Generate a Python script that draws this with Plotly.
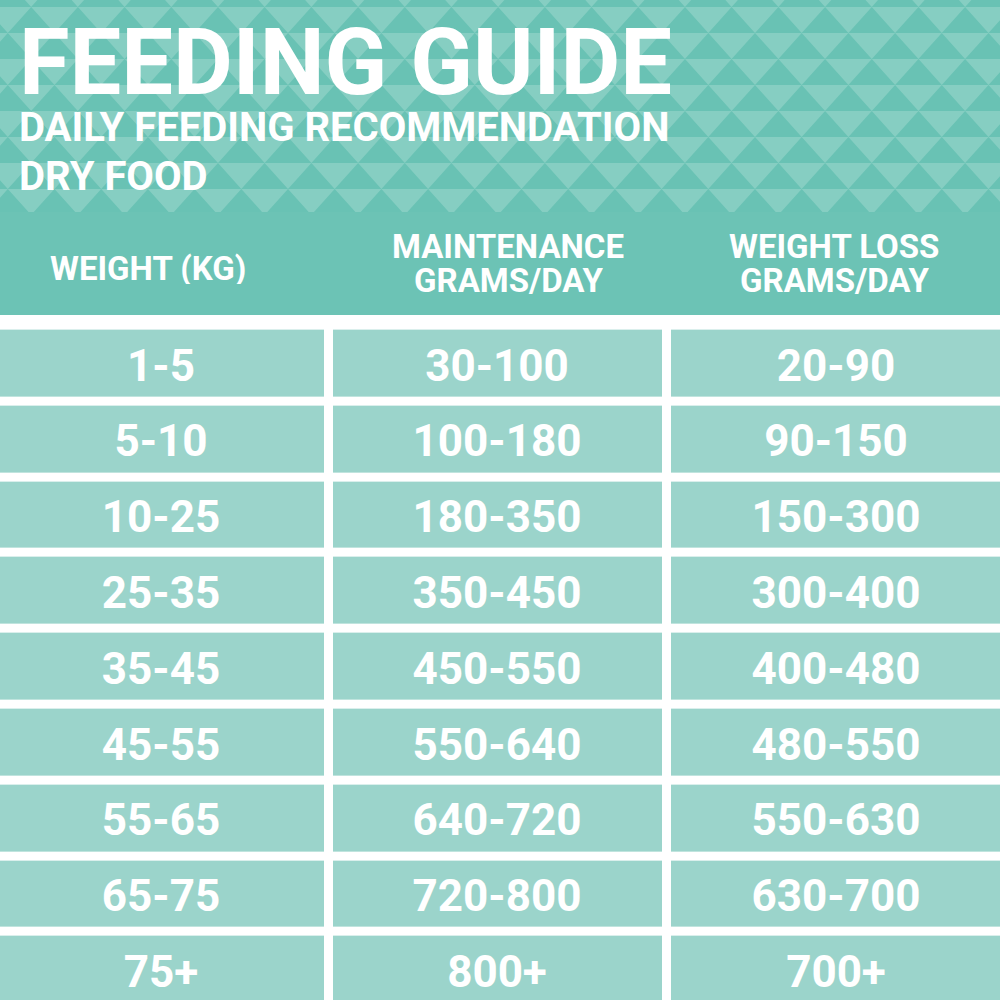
import plotly.graph_objects as go

# table data
weights = ["1-5", "5-10", "10-25", "25-35", "35-45", "45-55", "55-65", "65-75", "75+"]
maintenance = ["30-100", "100-180", "180-350", "350-450", "450-550",
               "550-640", "640-720", "720-800", "800+"]
weight_loss = ["20-90", "90-150", "150-300", "300-400", "400-480",
               "480-550", "550-630", "630-700", "700+"]
col_headers = [["WEIGHT (KG)"], ["MAINTENANCE", "GRAMS/DAY"], ["WEIGHT LOSS", "GRAMS/DAY"]]

title = "FEEDING GUIDE"
subtitle1 = "DAILY FEEDING RECOMMENDATION"
subtitle2 = "DRY FOOD"

DARK = "#69c2b4"
LIGHT = "#86cec2"
BAND = "#6cc3b5"
CELL = "#9bd4cb"
FONT = "Roboto"

col_x = [161, 497, 836]
row_y0 = 363.5
row_step = 75.8
row_y = [row_y0 + i * row_step for i in range(len(weights))]

fig = go.Figure()

# table cells, white gaps via xgap/ygap
cols = [weights, maintenance, weight_loss]
z = [[1, 1, 1] for r in range(len(weights))]
fig.add_trace(go.Heatmap(
    x=col_x, y=row_y, z=z,
    colorscale=[[0, CELL], [1, CELL]], showscale=False,
    xgap=9, ygap=9, hoverinfo="skip",
))
# cell labels sit a touch below the cell centre, like the original
for c in range(3):
    fig.add_trace(go.Scatter(
        x=[col_x[c]] * len(weights), y=[v + 6 for v in row_y], text=cols[c],
        mode="text", hoverinfo="skip",
        textfont=dict(family=FONT, size=44, color="white", weight=700),
    ))

shapes = []
# header background with triangle pattern
shapes.append(dict(type="rect", xref="x", yref="y", x0=0, x1=1000, y0=0, y1=212,
                   fillcolor=LIGHT, line=dict(width=0), layer="below"))
w = 46.7
h = 26
path = ""
for r in range(-1, 9):
    top = 7 + r * h
    bot = top + h
    off = 7.8 + (w / 2 if r % 2 == 0 else 0)
    k = -2
    while off + k * w < 1050:
        cx = off + k * w
        t = max(top, 0)
        b = min(bot, 212)
        if b > t:
            # triangle clipped to the pattern area
            def xl(y):
                return cx - (y - top) / h * w / 2
            def xr(y):
                return cx + (y - top) / h * w / 2
            path += "M%.1f,%.1f L%.1f,%.1f L%.1f,%.1f L%.1f,%.1f Z " % (
                xl(t), t, xr(t), t, xr(b), b, xl(b), b)
        k += 1
shapes.append(dict(type="path", xref="x", yref="y", path=path,
                   fillcolor=DARK, line=dict(width=0), layer="below"))
# column header band
shapes.append(dict(type="rect", xref="x", yref="y", x0=0, x1=1000, y0=212, y1=315,
                   fillcolor=BAND, line=dict(width=0), layer="below"))

annotations = [
    dict(x=17, y=62, text=title, xanchor="left", yanchor="middle", showarrow=False,
         height=80, font=dict(family=FONT, size=92, color="white", weight=700)),
    dict(x=17, y=127, text=subtitle1, xanchor="left", yanchor="middle", showarrow=False,
         height=38, font=dict(family=FONT, size=40, color="white", weight=700)),
    dict(x=17, y=176, text=subtitle2, xanchor="left", yanchor="middle", showarrow=False,
         height=38, font=dict(family=FONT, size=40, color="white", weight=700)),
]
head_x = [148, 508, 834]
for hx, lines in zip(head_x, col_headers):
    ys = [268] if len(lines) == 1 else [246, 280]
    for hy, ht in zip(ys, lines):
        annotations.append(dict(x=hx, y=hy, text=ht, xanchor="center", yanchor="middle",
                                showarrow=False, height=32,
                                font=dict(family=FONT, size=33, color="white", weight=700)))

fig.update_layout(
    width=1000, height=1000,
    margin=dict(l=0, r=0, t=0, b=0),
    paper_bgcolor="white", plot_bgcolor="white",
    xaxis=dict(range=[0, 1000], visible=False, fixedrange=True),
    yaxis=dict(range=[1000, 0], visible=False, fixedrange=True),
    shapes=shapes, annotations=annotations,
    showlegend=False,
)

fig.write_html("out.html", config={"displayModeBar": False},
               post_script="document.body.style.margin='0';")
